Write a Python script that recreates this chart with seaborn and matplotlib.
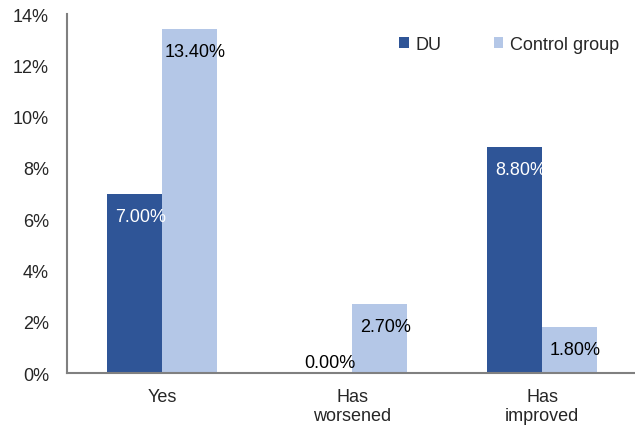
import numpy as np
import pandas as pd
import matplotlib
matplotlib.use('Agg')
import matplotlib.pyplot as plt
import seaborn as sns
from matplotlib.ticker import FuncFormatter

# Data
categories = ['Yes', 'Has\nworsened', 'Has\nimproved']
du_values = [7.00, 0.00, 8.80]
control_values = [13.40, 2.70, 1.80]
series_names = ['DU', 'Control group']
colors = ['#2F5597', '#B4C7E7']

df = pd.DataFrame({
    'category': categories * 2,
    'value': du_values + control_values,
    'group': [series_names[0]] * 3 + [series_names[1]] * 3,
})

sns.set_style('white')
plt.rcParams['font.family'] = ['Liberation Sans', 'DejaVu Sans']
plt.rcParams['font.size'] = 13

fig = plt.figure(figsize=(6.35, 4.35), dpi=100)
ax = fig.add_axes([0.1055, 0.1402, 0.898, 0.8253])

sns.barplot(data=df, x='category', y='value', hue='group', palette=colors,
            width=0.58, gap=0, saturation=1, ax=ax, errorbar=None, linewidth=0)

ax.set_ylim(0, 14)
ax.set_xlim(-0.5, 2.5)
ax.set_yticks(np.arange(0, 15, 2))
ax.yaxis.set_major_formatter(FuncFormatter(lambda v, p: f'{v:.0f}%'))
ax.set_xticks([0, 1, 2])
ax.set_xticklabels(categories, linespacing=1.15)
ax.set_xticks([0.5, 1.5], minor=True)
ax.tick_params(axis='x', which='major', length=0, pad=11)
ax.tick_params(axis='x', which='minor', length=5, color='#808080', width=1.2, direction='out')
ax.tick_params(axis='y', length=5, color='#808080', width=1.2, direction='out', pad=8)
ax.set_xlabel('')
ax.set_ylabel('')

for s in ['top', 'right']:
    ax.spines[s].set_visible(False)
for s in ['left', 'bottom']:
    ax.spines[s].set_color('#808080')
    ax.spines[s].set_linewidth(1.5)

# Value labels inside the top of each bar
for container, lab_color in zip(ax.containers, ['white', 'black']):
    for bar in container:
        h = bar.get_height()
        x = bar.get_x() + bar.get_width() / 2 + 0.03
        if h == 0:
            ax.text(x, 0.08, f'{h:.2f}%', ha='center', va='bottom', color='black')
        else:
            ax.text(x, h - 0.55, f'{h:.2f}%', ha='center', va='top', color=lab_color)

ax.legend(loc='upper right', bbox_to_anchor=(0.99, 0.975), frameon=False, ncol=2,
          handlelength=0.55, handleheight=0.55, handletextpad=0.35, columnspacing=2.9,
          borderaxespad=0.3)

fig.savefig('out.png', dpi=100)
